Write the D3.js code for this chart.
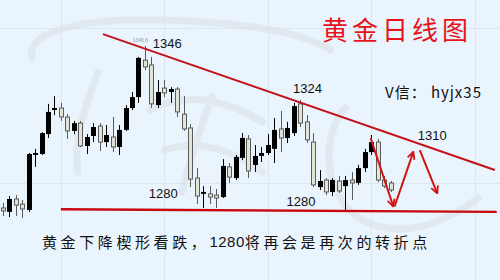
<!DOCTYPE html>
<html><head><meta charset="utf-8">
<script src="https://cdn.jsdelivr.net/npm/d3@7"></script>
<style>html,body{margin:0;padding:0;background:#eaf4fd;}svg{display:block}</style>
</head><body>
<svg id="c" width="500" height="280"></svg>
<script>
// ---- data (daily gold candles) ----
const days = d3.range(61).map(i => "D" + (i + 1));
const opens = [1280.0,1278.4,1283.7,1281.6,1279.2,1301.8,1302.2,1310.4,1320.3,1321.1,
1317.4,1311.7,1314.9,1305.5,1309.6,1313.7,1307.1,1309.2,1305.1,1312.1,
1321.1,1325.6,1340.8,1338.8,1322.3,1329.3,1327.7,1328.9,1318.6,1312.9,
1292.3,1285.8,1285.8,1285.3,1284.5,1296.9,1292.3,1300.6,1308.4,1297.7,
1301.4,1302.6,1304.3,1312.5,1308.8,1310.8,1322.8,1315.4,1307.1,1288.6,
1291.5,1286.6,1291.1,1289.0,1291.5,1290.3,1296.4,1303.0,1307.1,1291.5,
1290.3];
const highs = [1282.1,1284.9,1285.3,1283.3,1302.6,1304.3,1311.2,1322.8,1326.0,1323.2,
1318.6,1315.8,1315.8,1310.4,1314.9,1314.9,1314.1,1317.4,1314.1,1322.3,
1327.7,1342.1,1346.6,1342.1,1332.6,1332.6,1329.7,1329.7,1326.0,1314.5,
1296.4,1289.0,1289.0,1287.8,1300.1,1298.5,1301.8,1310.8,1310.0,1305.9,
1305.1,1310.4,1317.0,1319.9,1315.4,1323.2,1324.4,1318.2,1310.8,1295.6,
1292.3,1292.3,1293.2,1293.2,1294.8,1297.7,1304.3,1310.0,1308.4,1293.2,
1291.1];
const lows = [1276.7,1276.3,1276.7,1275.9,1278.4,1296.9,1301.8,1308.8,1318.2,1315.8,
1308.4,1310.4,1305.1,1302.2,1307.1,1303.4,1305.1,1303.0,1301.8,1311.7,
1320.3,1323.2,1336.7,1321.1,1321.1,1325.6,1323.2,1317.4,1311.7,1288.6,
1281.6,1280.0,1281.6,1280.0,1284.1,1290.3,1291.5,1299.7,1292.3,1294.8,
1298.9,1301.8,1298.5,1303.0,1306.7,1309.6,1313.3,1306.7,1288.6,1287.4,
1285.3,1284.9,1286.2,1279.2,1283.3,1289.5,1294.8,1301.8,1290.7,1288.2,
1286.6];
const closes = [1278.8,1283.7,1281.2,1279.6,1302.2,1302.6,1310.8,1319.5,1321.1,1317.4,
1311.7,1314.9,1305.5,1309.2,1313.3,1307.1,1310.0,1305.1,1312.1,1321.1,
1325.6,1341.7,1338.0,1322.8,1327.7,1327.3,1328.9,1319.5,1312.5,1291.9,
1284.9,1286.6,1284.5,1284.1,1297.3,1292.7,1301.0,1308.8,1295.2,1301.4,
1302.6,1305.9,1312.1,1308.8,1312.9,1321.9,1314.9,1308.0,1289.5,1291.1,
1286.6,1291.5,1287.0,1291.5,1290.3,1296.4,1303.0,1307.1,1291.5,1289.0,
1287.4];

// trend lines [candle index, price]
const resistanceLine = [[15.5,1351.5],[76.1,1295.6]];
const supportLine = [[9.0,1279.5],[76.4,1278.4]];
// forecast arrows
const arrowPaths = [
  [[56.9,1308.7],[60.4,1280.6]],
  [[60.6,1280.6],[63.5,1303.1]],
  [[64.5,1303.8],[67.2,1286.0]]
];
// price annotations [text, index, price]
const priceLabels = [["1346",23.2,1345.8],["1324",44.9,1327.3],["1310",64.2,1308.0],
                     ["1280",22.6,1284.1],["1280",43.9,1280.8]];
const peakLabel = ["1346.6",20.1,1348.2];
const gridIdx = [9,25,41,57,73];
const gridPrices = [1354.0,1290.3];

const title = "黄金日线图";
const contact = "V信： hyjx35";
const captionParts = ["黄金下降楔形看跌，","1280","将再会是再次的转折点"];

// ---- drawing ----
const W = 500, H = 280;
const svg = d3.select("#c");
const x = d3.scaleLinear().domain([0, 60]).range([2.7, 390.7]);
const y = d3.scaleLinear().domain([1280, 1346.6]).range([208, 46]);

svg.append("rect").attr("width", W).attr("height", H).attr("fill", "#eaf4fd");

// faint grid
svg.append("g").selectAll("line").data(gridIdx).join("line")
  .attr("x1", d => Math.round(x(d)) + 0.5).attr("x2", d => Math.round(x(d)) + 0.5)
  .attr("y1", 0).attr("y2", H).attr("stroke", "#dde7f0").attr("stroke-width", 1);
svg.append("g").selectAll("line").data(gridPrices).join("line")
  .attr("y1", d => Math.round(y(d)) + 0.5).attr("y2", d => Math.round(y(d)) + 0.5)
  .attr("x1", 0).attr("x2", W).attr("stroke", "#dde7f0").attr("stroke-width", 1);

// faint watermark strokes
const wm = svg.append("g").attr("fill", "none").attr("stroke", "#d8dfe5")
  .attr("stroke-linecap", "round").attr("opacity", 0.5);
["M32,58 C26,32 80,18 160,20 C230,22 300,30 330,50",
 "M98,72 C88,100 72,140 78,172",
 "M150,110 C185,92 225,98 262,122",
 "M165,150 C200,138 232,150 262,172",
 "M212,96 C200,130 190,160 182,192",
 "M345,108 C318,140 326,200 362,220 C402,240 444,224 478,198"
].forEach(p => wm.append("path").attr("d", p).attr("stroke-width", 7));

// candles
const candles = svg.append("g");
days.forEach((d, i) => {
  const o = opens[i], c = closes[i], h = highs[i], l = lows[i];
  const up = c >= o;
  const cx = Math.round(x(i)) + 0.5;
  candles.append("line").attr("x1", cx).attr("x2", cx)
    .attr("y1", y(h)).attr("y2", y(l))
    .attr("stroke", up ? "#000" : "#5a5a5a").attr("stroke-width", 1);
  const top = y(Math.max(o, c)), bot = y(Math.min(o, c));
  const hgt = Math.max(1.5, bot - top);
  if (up) {
    candles.append("rect").attr("x", cx - 2.5).attr("y", top)
      .attr("width", 5).attr("height", hgt).attr("fill", "#000");
  } else {
    candles.append("rect").attr("x", cx - 2).attr("y", top)
      .attr("width", 4).attr("height", hgt)
      .attr("fill", "#e1e5d8").attr("stroke", "#5a5a5a").attr("stroke-width", 1);
  }
});

// trend lines
const line = d3.line().x(d => x(d[0])).y(d => y(d[1]));
svg.append("path").attr("d", line(resistanceLine)).attr("fill", "none")
  .attr("stroke", "#c4121a").attr("stroke-width", 2);
svg.append("path").attr("d", line(supportLine)).attr("fill", "none")
  .attr("stroke", "#c8080e").attr("stroke-width", 2.4);

// arrows
svg.append("defs").append("marker").attr("id", "ah")
  .attr("viewBox", "0 0 10 10").attr("refX", 9).attr("refY", 5)
  .attr("markerWidth", 9).attr("markerHeight", 9).attr("markerUnits", "userSpaceOnUse")
  .attr("orient", "auto")
  .append("path").attr("d", "M1,1 L9,5 L1,9").attr("fill", "none")
  .attr("stroke", "#d01414").attr("stroke-width", 2);
arrowPaths.forEach(a => {
  svg.append("path").attr("d", line(a)).attr("fill", "none")
    .attr("stroke", "#d01414").attr("stroke-width", 2)
    .attr("marker-end", "url(#ah)");
});

// labels
svg.append("g").selectAll("text").data(priceLabels).join("text")
  .attr("x", d => x(d[1])).attr("y", d => y(d[2]))
  .attr("font-family", "'Liberation Sans', Arial, sans-serif").attr("font-size", 13)
  .attr("fill", "#111").text(d => d[0]);
svg.append("text").attr("x", x(peakLabel[1])).attr("y", y(peakLabel[2]))
  .attr("font-family", "'Liberation Sans', Arial, sans-serif").attr("font-size", 5)
  .attr("fill", "#999").text(peakLabel[0]);

svg.append("text").attr("x", 322).attr("y", 28.5).attr("dominant-baseline", "central")
  .attr("font-family", "'Noto Sans CJK SC', sans-serif").attr("font-size", 26)
  .attr("letter-spacing", 4).attr("fill", "#e8121c").text(title);

svg.append("text").attr("x", 385).attr("y", 98)
  .attr("font-family", "'Noto Sans CJK SC', sans-serif").attr("font-size", 15)
  .attr("letter-spacing", 1).attr("fill", "#111").text(contact);

const cap = svg.append("text").attr("x", 42).attr("y", 240.5).attr("dominant-baseline", "central")
  .attr("font-family", "'Noto Sans CJK SC', sans-serif").attr("font-size", 15).attr("fill", "#111");
captionParts.forEach((t, k) => {
  cap.append("tspan").attr("letter-spacing", k === 1 ? 0.5 : 3.6)
    .attr("font-family", k === 1 ? "'Liberation Sans', Arial, sans-serif" : null)
    .text(t);
});
</script>
</body></html>
